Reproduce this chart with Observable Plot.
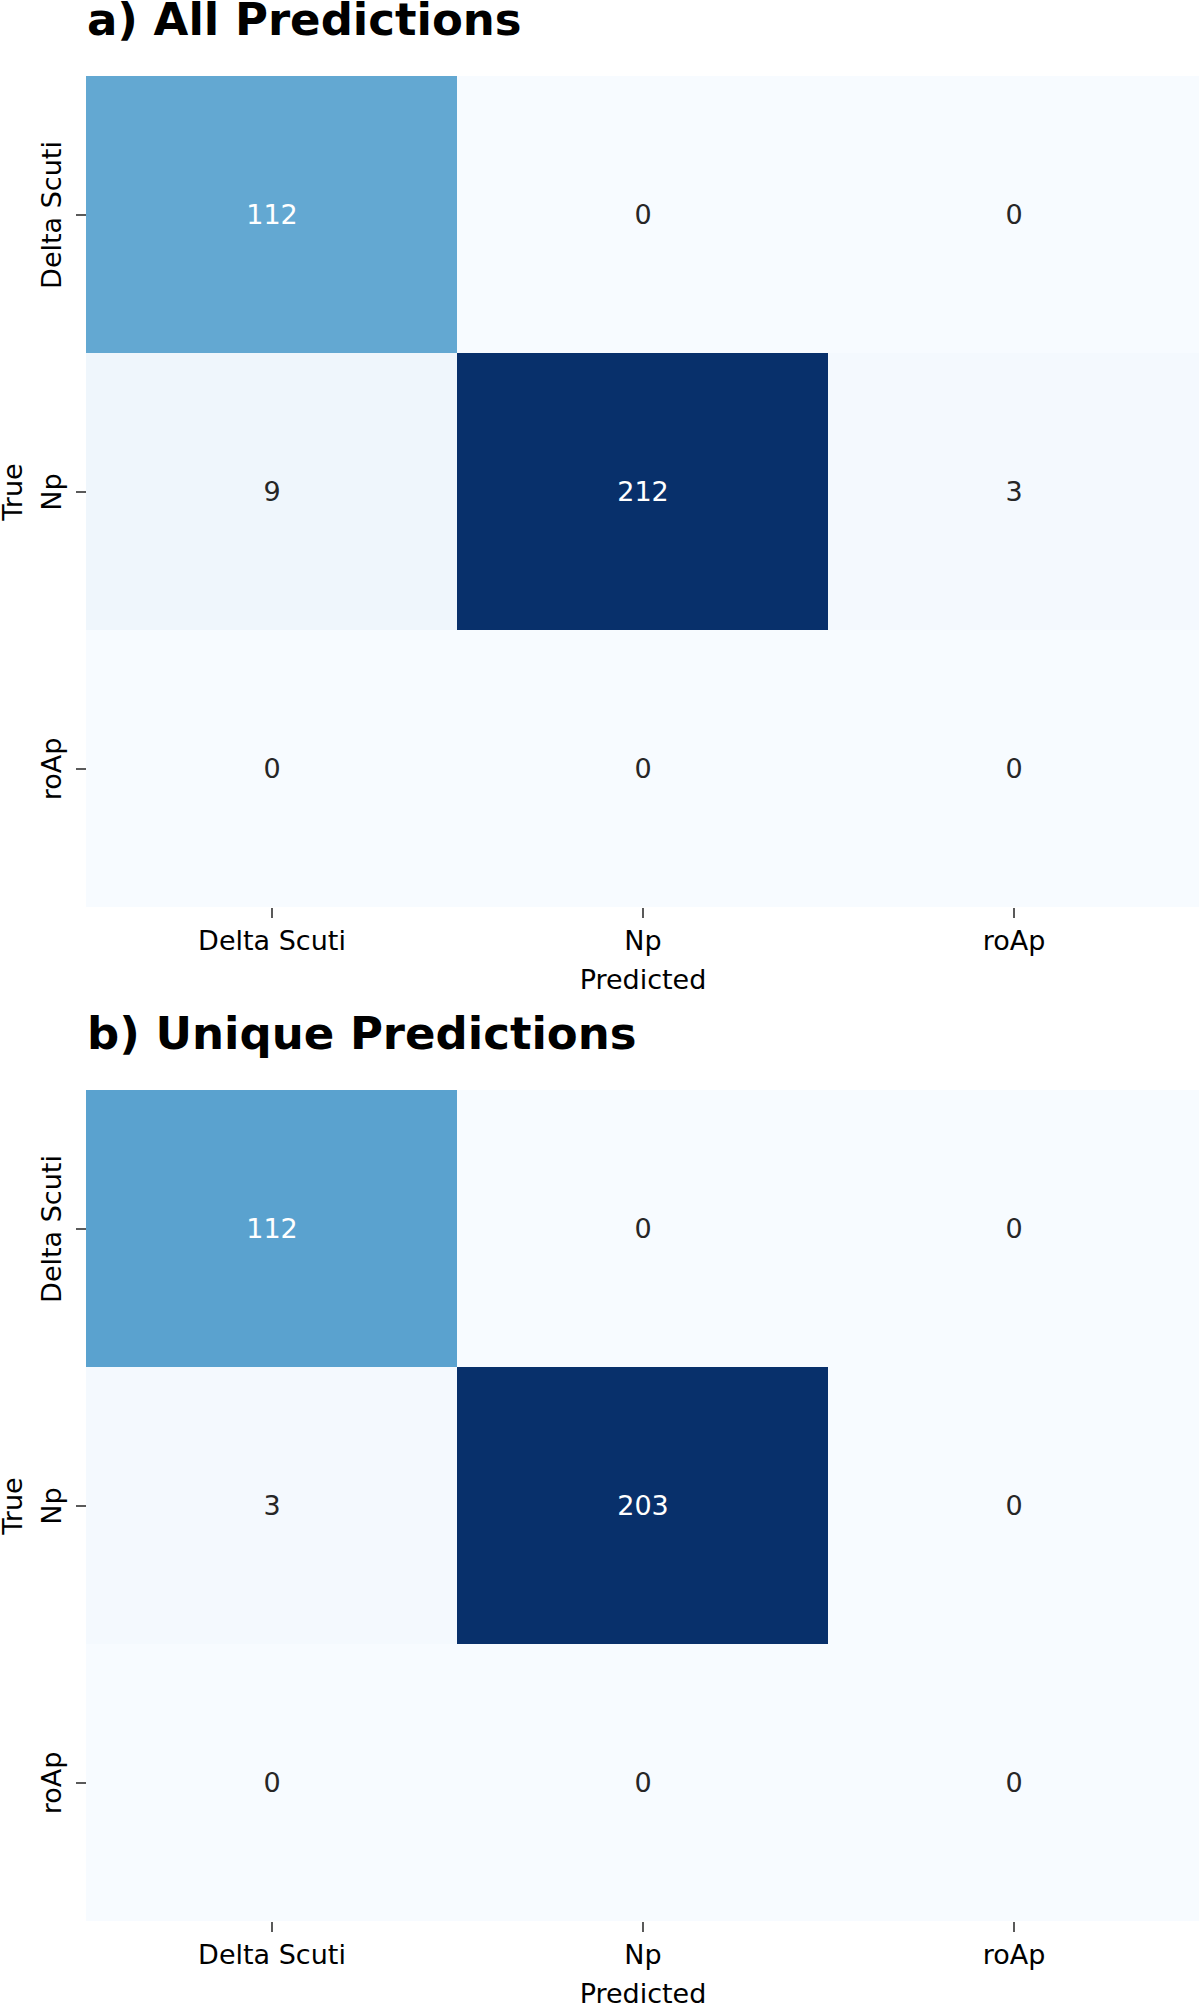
<!DOCTYPE html>
<html>
<head>
<meta charset="utf-8">
<script src="https://cdn.jsdelivr.net/npm/d3@7"></script>
<script src="https://cdn.jsdelivr.net/npm/@observablehq/plot@0.6"></script>
<style>
  html, body { margin: 0; padding: 0; background: #ffffff; }
  body { width: 1200px; overflow: hidden; font-family: "DejaVu Sans", sans-serif; }
  .panel { position: relative; width: 1200px; height: 1014px; }
  .panel h2 { position: absolute; left: 87px; top: -3px; margin: 0; font-size: 45px; line-height: 45px; font-weight: bold; color: #000; font-family: "DejaVu Sans", sans-serif; }
  .panel svg { position: absolute; left: 0; top: 0; }
</style>
</head>
<body>
<div id="root"></div>
<script>
// ---- data ----
const categories = ["Delta Scuti", "Np", "roAp"];
const panelTitles = ["a) All Predictions", "b) Unique Predictions"];
const allPredictions = [
  [112, 0, 0],
  [9, 212, 3],
  [0, 0, 0]
];
const uniquePredictions = [
  [112, 0, 0],
  [3, 203, 0],
  [0, 0, 0]
];
const xLabel = "Predicted";
const yLabel = "True";

function toRows(matrix) {
  const rows = [];
  matrix.forEach((r, i) => r.forEach((v, j) => rows.push({ actual: categories[i], predicted: categories[j], value: v })));
  return rows;
}

function heatmap(matrix) {
  const rows = toRows(matrix);
  const max = d3.max(rows, d => d.value);
  return Plot.plot({
    width: 1200,
    height: 1014,
    marginTop: 75,
    marginLeft: 86,
    marginRight: 1,
    marginBottom: 106,
    style: "font-family: 'DejaVu Sans', sans-serif; font-size: 27px; color: #000; background: transparent; overflow: visible;",
    x: { domain: categories, padding: 0, label: null },
    y: { domain: categories, padding: 0, label: null },
    color: { type: "linear", scheme: "blues", domain: [0, max] },
    marks: [
      Plot.cell(rows, { x: "predicted", y: "actual", fill: "value", inset: 0 }),
      Plot.text(rows, {
        x: "predicted", y: "actual", text: d => String(d.value), fontSize: 27,
        fill: d => d.value > max * 0.4 ? "#ffffff" : "#262626"
      }),
      Plot.axisX({ tickSize: 10, tickPadding: 12, strokeWidth: 1.3, label: null, fontSize: 27 }),
      Plot.axisY({ tickSize: 10, tickPadding: 16, tickRotate: -90, strokeWidth: 1.3, label: null, fontSize: 27 }),
      Plot.text([xLabel], { text: d => d, frameAnchor: "bottom", dy: 80, fontSize: 27, fill: "#000" }),
      Plot.text([yLabel], { text: d => d, frameAnchor: "left", textAnchor: "middle", rotate: -90, dx: -73, fontSize: 27, fill: "#000" })
    ]
  });
}

const root = document.getElementById("root");
[allPredictions, uniquePredictions].forEach((m, k) => {
  const panel = document.createElement("div");
  panel.className = "panel";
  const h = document.createElement("h2");
  h.textContent = panelTitles[k];
  panel.appendChild(heatmap(m));
  panel.appendChild(h);
  root.appendChild(panel);
});
</script>
</body>
</html>
